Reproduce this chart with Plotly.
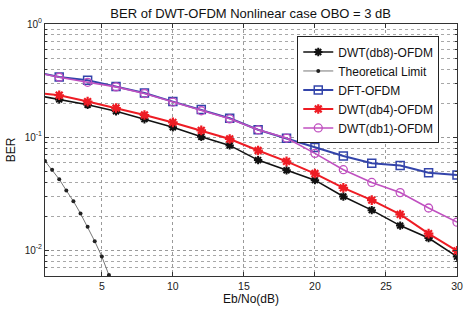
import plotly.graph_objects as go
import numpy as np

# ---- data ----
snr = [0, 2, 4, 6, 8, 10, 12, 14, 16, 18, 20, 22, 24, 26, 28, 30]
ber_db8 = [0.239, 0.2154, 0.193, 0.1693, 0.144, 0.1223, 0.1006, 0.0844, 0.0626, 0.0508,
           0.0416, 0.0298, 0.0226, 0.0165, 0.0128, 0.00877]
ber_dft = [0.385, 0.340, 0.318, 0.280, 0.2454, 0.206, 0.175, 0.1469, 0.1162, 0.0975,
           0.0807, 0.0681, 0.0587, 0.056, 0.0483, 0.0461]
ber_db4 = [0.250, 0.2345, 0.206, 0.1807, 0.1567, 0.1348, 0.1147, 0.0962, 0.0761, 0.0610,
           0.0476, 0.0356, 0.0277, 0.0207, 0.0140, 0.00987]
ber_db1 = [0.383, 0.338, 0.305, 0.278, 0.243, 0.204, 0.171, 0.145, 0.116, 0.098,
           0.0718, 0.0515, 0.0397, 0.0323, 0.0236, 0.0177]
snr_theory = [1, 1.5, 2, 2.5, 3, 3.5, 4, 4.5, 5, 5.5, 6]
ber_theory = [0.0614, 0.0515, 0.0424, 0.0337, 0.0271, 0.0211, 0.0161, 0.0120, 0.00877,
              0.00602, 0.0037]

title_text = "BER of DWT-OFDM Nonlinear case OBO = 3 dB"
x_label = "Eb/No(dB)"
y_label = "BER"
x_ticks = [5, 10, 15, 20, 25, 30]
y_major = [1e-2, 1e-1, 1e0]
y_major_text = ["10<sup>-2</sup>", "10<sup>-1</sup>", "10<sup>0</sup>"]

FONT = "Liberation Sans, Arial, sans-serif"

fig = go.Figure()
fig.add_trace(go.Scatter(x=snr, y=ber_db8, name="DWT(db8)-OFDM", mode="lines+markers",
                         line=dict(color="#111111", width=1.6),
                         marker=dict(symbol="asterisk-open", size=7, color="#111111",
                                     line=dict(color="#111111", width=2))))
fig.add_trace(go.Scatter(x=snr_theory, y=ber_theory, name="Theoretical Limit", mode="lines+markers",
                         line=dict(color="#777777", width=1),
                         marker=dict(symbol="circle", size=4, color="#222222")))
fig.add_trace(go.Scatter(x=snr, y=ber_dft, name="DFT-OFDM", mode="lines+markers",
                         line=dict(color="#3344aa", width=2),
                         marker=dict(symbol="square-open", size=8, color="#3344aa",
                                     line=dict(color="#3344aa", width=1.5))))
fig.add_trace(go.Scatter(x=snr, y=ber_db4, name="DWT(db4)-OFDM", mode="lines+markers",
                         line=dict(color="#ee1c24", width=2),
                         marker=dict(symbol="asterisk-open", size=8, color="#ee1c24",
                                     line=dict(color="#ee1c24", width=2.2))))
fig.add_trace(go.Scatter(x=snr, y=ber_db1, name="DWT(db1)-OFDM", mode="lines+markers",
                         line=dict(color="#c050c0", width=1.6),
                         marker=dict(symbol="circle-open", size=8, color="#c050c0",
                                     line=dict(color="#c050c0", width=1.3))))

# minor log grid positions
y_minor = []
for d in [-3, -2, -1]:
    for m in range(2, 10):
        v = m * 10.0 ** d
        if 0.0058 <= v <= 1.0:
            y_minor.append(v)

fig.update_layout(
    width=473, height=314,
    margin=dict(l=40, r=10, t=24, b=27),
    paper_bgcolor="white", plot_bgcolor="white",
    font=dict(family=FONT, color="#111111"),
    title=dict(text=title_text, x=0.53, xanchor="center", y=1 - 13 / 314, yanchor="middle",
               yref="container", font=dict(size=13, family=FONT, color="#111111")),
    showlegend=True,
    legend=dict(x=(299 - 40) / 423, y=(287 - 37) / 263, xanchor="left", yanchor="top",
                bgcolor="white", bordercolor="#222222", borderwidth=1,
                font=dict(size=12, family=FONT, color="#111111"),
                tracegroupgap=0, itemwidth=30),
    xaxis=dict(range=[1, 30], tickvals=x_ticks, ticks="inside", ticklen=4, tickcolor="#333",
               showline=True, linecolor="#333", linewidth=1, mirror="ticks",
               showgrid=True, gridcolor="#9a9a9a", griddash="dot", gridwidth=1, zeroline=False,
               tickfont=dict(size=10.5, family=FONT, color="#222"),
               title=dict(text=x_label, standoff=4, font=dict(size=12, family=FONT, color="#111"))),
    yaxis=dict(type="log", range=[np.log10(0.00591), 0], tickvals=y_major, ticktext=y_major_text,
               ticks="inside", ticklen=4, tickcolor="#333",
               showline=True, linecolor="#333", linewidth=1, mirror="ticks",
               showgrid=True, gridcolor="#9a9a9a", griddash="dot", gridwidth=1, zeroline=False,
               minor=dict(tickvals=y_minor, ticks="inside", ticklen=2, tickcolor="#333",
                          showgrid=True, gridcolor="#a8a8a8", griddash="dot", gridwidth=1),
               tickfont=dict(size=10, family=FONT, color="#222"),
               title=dict(text=y_label, standoff=6, font=dict(size=12, family=FONT, color="#111"))),
)

fig.write_html("out.html")
